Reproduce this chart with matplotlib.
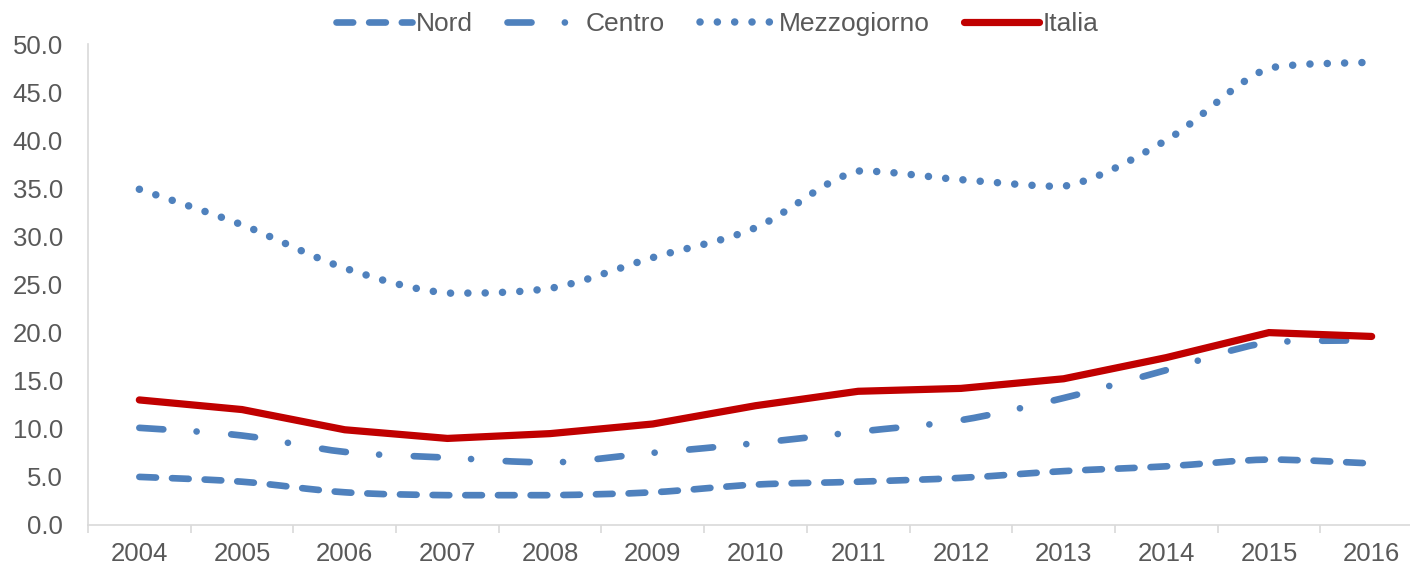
import numpy as np
import matplotlib
matplotlib.use("Agg")
from matplotlib import pyplot as plt
from matplotlib.path import Path
from matplotlib.patches import PathPatch
from matplotlib.lines import Line2D

plt.rcParams['font.family'] = ['Liberation Sans', 'DejaVu Sans']

years = ['2004', '2005', '2006', '2007', '2008', '2009', '2010',
         '2011', '2012', '2013', '2014', '2015', '2016']
nord = [5.0, 4.5, 3.4, 3.1, 3.1, 3.4, 4.2, 4.5, 4.9, 5.6, 6.1, 6.8, 6.4]
centro = [10.1, 9.3, 7.6, 7.0, 6.5, 7.5, 8.5, 9.7, 10.9, 13.2, 16.1, 19.0, 19.2]
mezzogiorno = [34.9, 31.2, 26.7, 24.1, 24.6, 27.8, 30.9, 36.8, 35.9, 35.2, 40.0, 47.5, 48.1]
italia = [13.0, 12.0, 9.9, 9.0, 9.5, 10.5, 12.4, 13.9, 14.2, 15.2, 17.4, 20.0, 19.6]

blue = '#4F81BD'
red = '#C00000'
grey = '#595959'
lw = 4.8
fs = 18.5


def smooth_path(y):
    # bezier come la "linea smussata" di excel, senza sforare tra due punti
    x = np.arange(len(y), dtype=float)
    p = np.column_stack([x, np.asarray(y, dtype=float)])
    pts = [p[0]]
    codes = [Path.MOVETO]
    n = len(p)
    for i in range(n - 1):
        p0 = p[i - 1] if i > 0 else p[i]
        p1 = p[i]
        p2 = p[i + 1]
        p3 = p[i + 2] if i + 2 < n else p[i + 1]
        c1 = p1 + (p2 - p0) / 6.0
        c2 = p2 - (p3 - p1) / 6.0
        lo, hi = min(p1[1], p2[1]), max(p1[1], p2[1])
        c1[1] = np.clip(c1[1], lo, hi)
        c2[1] = np.clip(c2[1], lo, hi)
        pts += [c1, c2, p2]
        codes += [Path.CURVE4] * 3
    return Path(np.array(pts), codes)


fig = plt.figure(figsize=(14.1, 5.68), dpi=100)
ax = fig.add_axes([88 / 1410, 43 / 568, 1335 / 1410, 481 / 568])

styles = {
    'Nord': (0, (2.5, 2.4)),
    'Centro': (0, (3.6, 5.0, 0.01, 5.2)),
    'Mezzogiorno': (0, (0.01, 2.3)),
}
for name, vals in [('Nord', nord), ('Centro', centro), ('Mezzogiorno', mezzogiorno)]:
    w = lw + 0.6 if name == 'Mezzogiorno' else lw
    patch = PathPatch(smooth_path(vals), fill=False, edgecolor=blue, linewidth=w,
                      linestyle=styles[name], capstyle='round', joinstyle='round')
    ax.add_patch(patch)

ax.plot(np.arange(len(years)), italia, color=red, linewidth=5.2,
        solid_capstyle='round', solid_joinstyle='miter')

ax.set_xlim(-0.5, len(years) - 0.5)
ax.set_ylim(0, 50)
ax.set_yticks(np.arange(0, 50.1, 5))
ax.set_yticklabels([f'{v:.1f}' for v in np.arange(0, 50.1, 5)])
ax.set_xticks(np.arange(len(years)))
ax.set_xticklabels(years)
ax.set_xticks(np.arange(-0.5, len(years), 1), minor=True)

for s in ['top', 'right']:
    ax.spines[s].set_visible(False)
for s in ['left', 'bottom']:
    ax.spines[s].set_color('#D9D9D9')
    ax.spines[s].set_linewidth(1.2)

ax.tick_params(axis='y', length=0, pad=18, labelsize=fs, labelcolor=grey)
ax.tick_params(axis='x', which='major', length=0, pad=12, labelsize=fs, labelcolor=grey)
ax.tick_params(axis='x', which='minor', length=6, width=1.2, color='#D9D9D9')

handles = [
    Line2D([], [], color=blue, lw=lw, linestyle=styles['Nord'], dash_capstyle='round'),
    Line2D([], [], color=blue, lw=lw, linestyle=styles['Centro'], dash_capstyle='round'),
    Line2D([], [], color=blue, lw=lw + 0.6, linestyle=styles['Mezzogiorno'], dash_capstyle='round'),
    Line2D([], [], color=red, lw=5.2, solid_capstyle='round'),
]
leg = fig.legend(handles, ['Nord', 'Centro', 'Mezzogiorno', 'Italia'], loc='center',
                 bbox_to_anchor=(0.509, 0.958), ncol=4, frameon=False, fontsize=19,
                 handlelength=2.85, handletextpad=0.15, columnspacing=1.3,
                 borderpad=0, borderaxespad=0)
for t in leg.get_texts():
    t.set_color(grey)

fig.savefig('out.png', dpi=100)
